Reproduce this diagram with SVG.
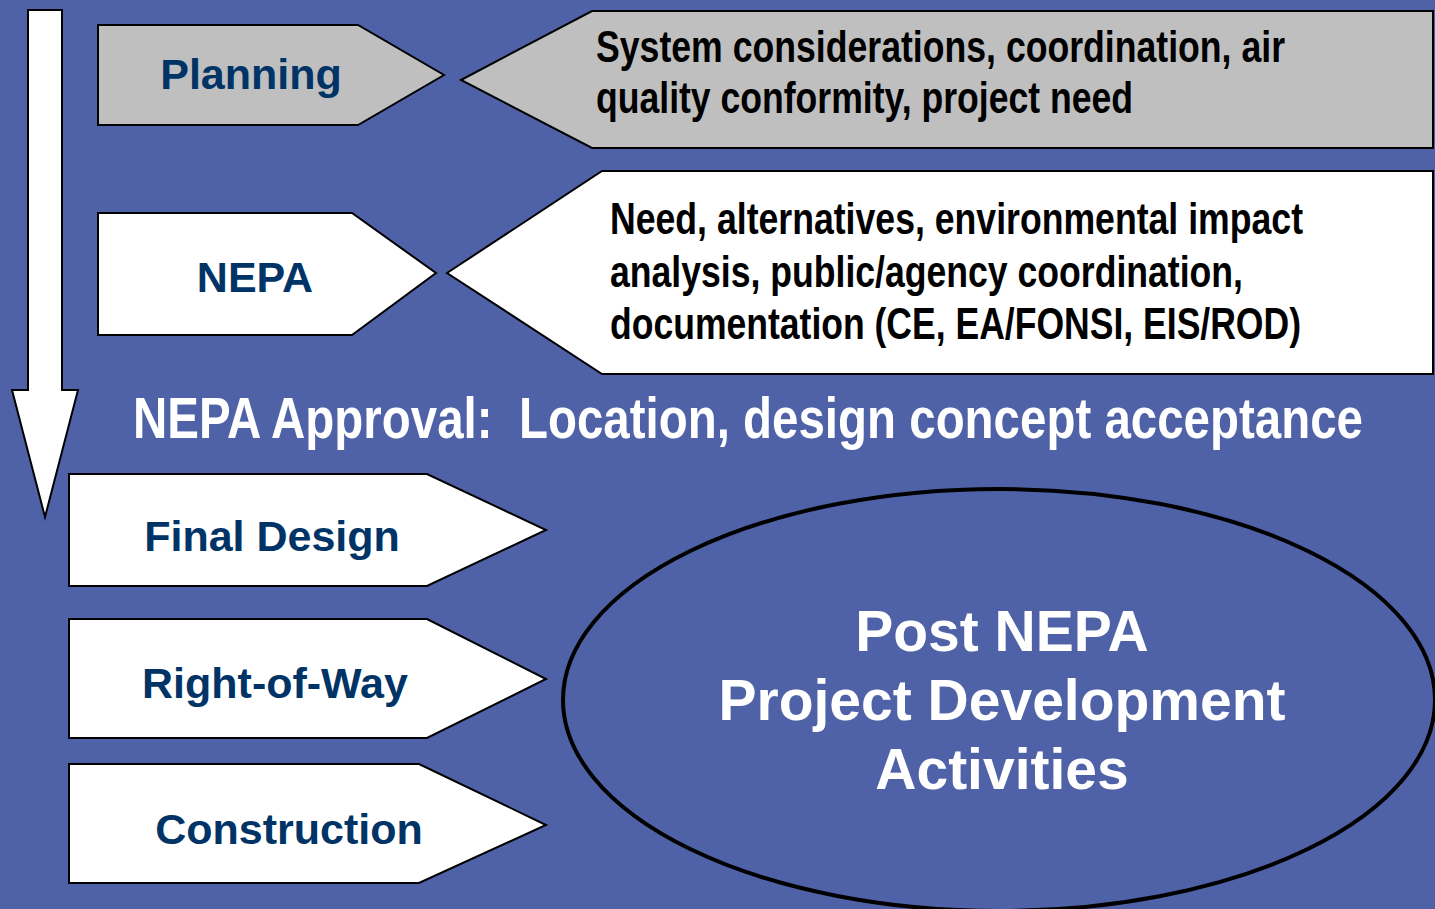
<svg xmlns="http://www.w3.org/2000/svg" width="1435" height="909" viewBox="0 0 1435 909">
<style>
.shape{stroke:#000;stroke-width:2;stroke-linejoin:miter}
.grey{fill:#BFBFBF}
.white{fill:#FFFFFF}
.lbl{font-family:"Liberation Sans",Arial,sans-serif;font-weight:bold;font-size:43px;fill:#003366;text-anchor:middle}
.desc{font-family:"Liberation Sans Narrow","Arial Narrow","Liberation Sans",sans-serif;font-weight:bold;font-size:44px;fill:#000}
.banner{font-family:"Liberation Sans Narrow","Arial Narrow","Liberation Sans",sans-serif;font-weight:bold;font-size:58px;fill:#FFF}
.big{font-family:"Liberation Sans",Arial,sans-serif;font-weight:bold;font-size:57px;fill:#FFF;text-anchor:middle}
</style>
<rect x="0" y="0" width="1435" height="909" fill="#5062A7"/>
<g id="connectors">
<polygon class="shape white" points="28,10 62,10 62,390 78,390 45,517 12,390 28,390"/>
</g>
<g id="planning">
<polygon class="shape grey" points="98,25 358,25 444,75 358,125 98,125"/>
<text class="lbl" x="251" y="89">Planning</text>
</g>
<g id="planning-desc">
<polygon class="shape grey" points="461,80 592,11 1433,11 1433,148 592,148"/>
<text class="desc" x="596" y="62" textLength="689" lengthAdjust="spacingAndGlyphs">System considerations, coordination, air</text>
<text class="desc" x="596" y="113" textLength="537" lengthAdjust="spacingAndGlyphs">quality conformity, project need</text>
</g>
<g id="nepa">
<polygon class="shape white" points="98,213 352,213 436,273 352,335 98,335"/>
<text class="lbl" x="255" y="292">NEPA</text>
</g>
<g id="nepa-desc">
<polygon class="shape white" points="447,273 602,171 1433,171 1433,374 602,374"/>
<text class="desc" x="610" y="234" textLength="693" lengthAdjust="spacingAndGlyphs">Need, alternatives, environmental impact</text>
<text class="desc" x="610" y="287" textLength="633" lengthAdjust="spacingAndGlyphs">analysis, public/agency coordination,</text>
<text class="desc" x="610" y="339" textLength="691" lengthAdjust="spacingAndGlyphs">documentation (CE, EA/FONSI, EIS/ROD)</text>
</g>
<g id="nepa-approval">
<text class="banner" x="133" y="438" textLength="1230" lengthAdjust="spacingAndGlyphs">NEPA Approval:&#160; Location, design concept acceptance</text>
</g>
<g id="final-design">
<polygon class="shape white" points="69,474 427,474 546,530 427,586 69,586"/>
<text class="lbl" x="272" y="551">Final Design</text>
</g>
<g id="right-of-way">
<polygon class="shape white" points="69,619 427,619 546,679 427,738 69,738"/>
<text class="lbl" x="275" y="698">Right-of-Way</text>
</g>
<g id="construction">
<polygon class="shape white" points="69,764 419,764 546,825 419,883 69,883"/>
<text class="lbl" x="289" y="844">Construction</text>
</g>
<g id="post-nepa">
<ellipse cx="999" cy="700" rx="436" ry="211" fill="none" stroke="#000" stroke-width="4"/>
<text class="big" x="1002" y="651">Post NEPA</text>
<text class="big" x="1002" y="720">Project Development</text>
<text class="big" x="1002" y="789">Activities</text>
</g>
</svg>
